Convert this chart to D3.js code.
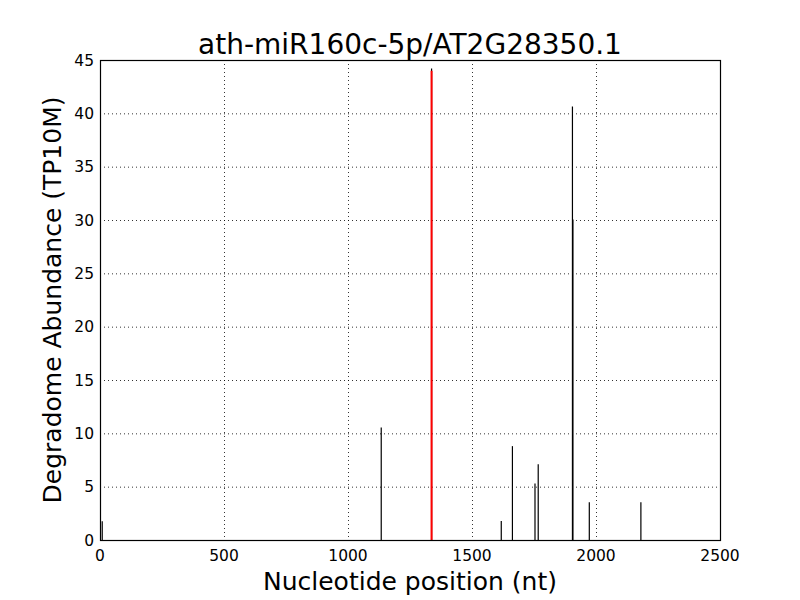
<!DOCTYPE html>
<html>
<head>
<meta charset="utf-8">
<script src="https://cdn.jsdelivr.net/npm/d3@7"></script>
<style>
	body { margin: 0; background: #fff; }
	text { font-family: 'DejaVu Sans', sans-serif; fill: #000; }
	.grid line { stroke: #000; stroke-width: 0.8; stroke-dasharray: 1,3; }
	.tick-label { font-size: 15.5px; }
</style>
</head>
<body>
<svg width="800" height="600"></svg>
<script>
const title = 'ath-miR160c-5p/AT2G28350.1';
const positions = [9, 1134, 1337, 1618, 1663, 1754, 1767, 1905, 1907, 1973, 2181];
const abundances = [1.75, 10.55, 44.2, 1.78, 8.8, 5.3, 7.1, 40.65, 30.05, 3.53, 3.53];
const cleavageSite = 1337;
const cleavageValue = 44.0;
const xTicks = [0, 500, 1000, 1500, 2000, 2500];
const yTicks = [0, 5, 10, 15, 20, 25, 30, 35, 40, 45];

const svg = d3.select('svg');
const margin = { left: 100, right: 80, top: 60, bottom: 60 };
const width = 800 - margin.left - margin.right;
const height = 600 - margin.top - margin.bottom;

const x = d3.scaleLinear().domain([0, 2500]).range([margin.left, margin.left + width]);
const y = d3.scaleLinear().domain([0, 45]).range([margin.top + height, margin.top]);

// grid
const grid = svg.append('g').attr('class', 'grid');
grid.selectAll('.gx')
	.data(xTicks.slice(1, -1))
	.enter()
	.append('line')
	.attr('x1', (d) => x(d) + 0.5)
	.attr('x2', (d) => x(d) + 0.5)
	.attr('y1', y(45))
	.attr('y2', y(0));
grid.selectAll('.gy')
	.data(yTicks.slice(1, -1))
	.enter()
	.append('line')
	.attr('x1', x(0))
	.attr('x2', x(2500))
	.attr('y1', (d) => y(d) + 0.5)
	.attr('y2', (d) => y(d) + 0.5);

// peaks
svg.selectAll('.peak')
	.data(positions.map((p, i) => ({ p, v: abundances[i] })))
	.enter()
	.append('line')
	.attr('class', 'peak')
	.attr('x1', (d) => x(d.p))
	.attr('x2', (d) => x(d.p))
	.attr('y1', y(0))
	.attr('y2', (d) => y(d.v))
	.attr('stroke', '#000')
	.attr('stroke-width', 1.2);

svg.append('line')
	.attr('x1', x(cleavageSite))
	.attr('x2', x(cleavageSite))
	.attr('y1', y(0))
	.attr('y2', y(cleavageValue))
	.attr('stroke', '#ff0000')
	.attr('stroke-width', 2);

// frame
svg.append('rect')
	.attr('x', margin.left + 0.5)
	.attr('y', margin.top + 0.5)
	.attr('width', width)
	.attr('height', height)
	.attr('fill', 'none')
	.attr('stroke', '#000')
	.attr('stroke-width', 1.2);

// tick labels
svg.selectAll('.xt')
	.data(xTicks)
	.enter()
	.append('text')
	.attr('class', 'tick-label')
	.attr('x', (d) => x(d))
	.attr('y', y(0) + 21)
	.attr('text-anchor', 'middle')
	.text((d) => d);

svg.selectAll('.yt')
	.data(yTicks)
	.enter()
	.append('text')
	.attr('class', 'tick-label')
	.attr('x', x(0) - 6)
	.attr('y', (d) => y(d) + 5.5)
	.attr('text-anchor', 'end')
	.text((d) => d);

// titles
svg.append('text')
	.attr('x', margin.left + width / 2)
	.attr('y', 54)
	.attr('text-anchor', 'middle')
	.style('font-size', '28px')
	.text(title);

svg.append('text')
	.attr('x', margin.left + width / 2)
	.attr('y', 590)
	.attr('text-anchor', 'middle')
	.style('font-size', '25px')
	.text('Nucleotide position (nt)');

svg.append('text')
	.attr('transform', `translate(61, ${margin.top + height / 2}) rotate(-90)`)
	.attr('text-anchor', 'middle')
	.style('font-size', '25px')
	.text('Degradome Abundance (TP10M)');
</script>
</body>
</html>
